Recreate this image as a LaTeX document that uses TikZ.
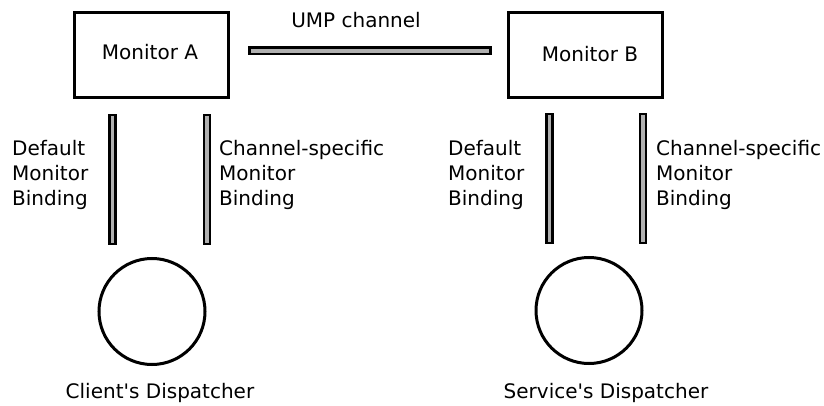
\documentclass[tikz,border=0pt]{standalone}
\usepackage{fontspec}
\setmainfont{DejaVu Sans}
\begin{document}
\begin{tikzpicture}[x=1pt,y=-1pt,
  every node/.style={font=\fontsize{20}{25}\selectfont},
  monbox/.style={draw=black,line width=3pt,minimum width=154pt,minimum height=85pt,inner sep=0pt},
  hbar/.style={draw=black,fill=barfill,line width=2.5pt,minimum width=241pt,minimum height=6.5pt,inner sep=0pt},
  vbar/.style={draw=black,fill=barfill,line width=2.5pt,minimum width=6pt,minimum height=129pt,inner sep=0pt},
  disp/.style={draw=black,circle,line width=3pt,minimum size=106pt,inner sep=0pt},
  lbl/.style={inner sep=0pt,align=left,anchor=west},
  ctr/.style={inner sep=0pt}]
\definecolor{barfill}{HTML}{B0B0B0}
\useasboundingbox (0,0) rectangle (824,406);
% monitors
\node[monbox] (monA) at (151,55) {};
\node[ctr] (monAtxt) at (150,52) {Monitor A};
\node[monbox] (monB) at (585.5,55) {};
\node[ctr] (monBtxt) at (590,54) {Monitor B};
% UMP channel
\node[hbar] (ump) at (370,51) {};
\node[ctr] (umplbl) at (356,20) {UMP channel};
% bindings
\node[vbar] (bA1) at (112.5,179.5) {};
\node[vbar] (bA2) at (207,179.5) {};
\node[vbar] (bB1) at (549.5,178.5) {};
\node[vbar] (bB2) at (643,178.5) {};
\node[lbl] (lA1) at (12,175) {Default\\Monitor\\Binding};
\node[lbl] (lA2) at (219,175) {Channel-specific\\Monitor\\Binding};
\node[lbl] (lB1) at (448,175) {Default\\Monitor\\Binding};
\node[lbl] (lB2) at (656,175) {Channel-specific\\Monitor\\Binding};
% dispatchers
\node[disp] (dA) at (152,311.5) {};
\node[disp] (dB) at (589,310.5) {};
\node[ctr] (dAlbl) at (160,393) {Client\textquotesingle s Dispatcher};
\node[ctr] (dBlbl) at (606,393) {Service\textquotesingle s Dispatcher};
\end{tikzpicture}
\end{document}
